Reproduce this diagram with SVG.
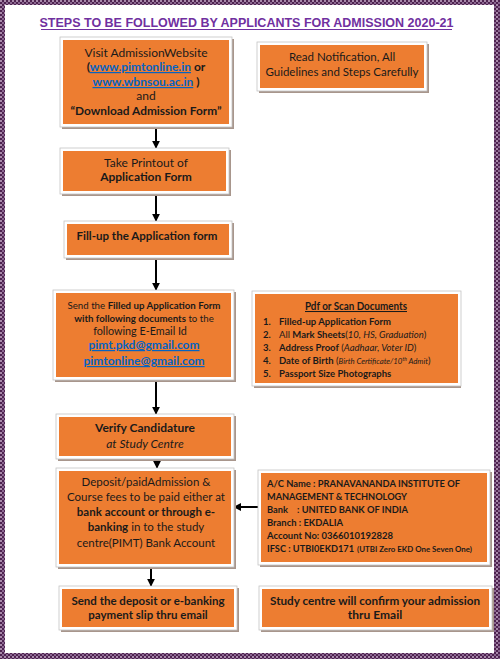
<svg xmlns="http://www.w3.org/2000/svg" width="500" height="659" viewBox="0 0 500 659">
<style>
.t{font-family:Lato,"Liberation Sans",sans-serif;font-size:12px;fill:#1a1a1a}
.c{text-anchor:middle}
.b{font-weight:700}
.i{font-style:italic}
.lnk{fill:#0563C1;font-weight:700;text-decoration:underline}
.fr{fill:#ffffff;stroke:#c4c4c4;stroke-width:0.8}
.sh{fill:#a8968c}
.or{fill:#ED7D31}
.ar{stroke:#000;stroke-width:2;fill:none;marker-end:url(#ah)}
.bk{font-size:10px;font-weight:700;white-space:pre}
.bs{font-size:8px}
.li{font-size:10.4px}
.l2{font-size:9.5px}
.sm{font-size:7.8px}
.sup{font-size:5px}
.m{font-size:11.5px}
.s{font-size:10.8px}
.s2{font-size:9.7px}
</style>
<defs>
<pattern id="pp" width="4" height="4" patternUnits="userSpaceOnUse">
<rect width="4" height="4" fill="#4e2350"/>
<rect x="0" y="0" width="2" height="2" fill="#a98aab"/>
<rect x="2" y="2" width="2" height="2" fill="#8a6690"/>
</pattern>
<marker id="ah" viewBox="0 0 10 10" refX="9" refY="5" markerWidth="4" markerHeight="4" orient="auto" markerUnits="strokeWidth">
<path d="M0,0 L10,5 L0,10 Z" fill="#000"/>
</marker>
</defs>
<rect width="500" height="659" fill="#ffffff"/>
<path d="M0,0 H500 V659 H0 Z M5,5 V653 H494 V5 Z" fill="url(#pp)" fill-rule="evenodd"/>
<g id="title">
<text x="246.5" y="27" font-family="'Liberation Sans',Arial,sans-serif" font-size="12.5" font-weight="700" fill="#7030A0" text-anchor="middle">STEPS TO BE FOLLOWED BY APPLICANTS FOR ADMISSION 2020-21</text>
<line x1="41" y1="29.5" x2="452" y2="29.5" stroke="#7030A0" stroke-width="1.2"/>
</g>
<g id="connectors">
<line class="ar" x1="156" y1="127" x2="156" y2="148"/>
<line class="ar" x1="156" y1="194" x2="156" y2="221"/>
<line class="ar" x1="156" y1="260" x2="156" y2="290"/>
<line class="ar" x1="156" y1="380" x2="156" y2="414"/>
<line class="ar" x1="157" y1="459" x2="157" y2="468"/>
<line class="ar" x1="151" y1="567" x2="151" y2="586"/>
<line class="ar" x1="258" y1="507" x2="234" y2="507"/>
</g>
<g id="n1">
<rect class="sh" x="62" y="39" width="172" height="90"/>
<rect class="fr" x="60" y="37" width="172" height="90"/>
<rect class="or" x="63" y="40" width="166" height="84"/>
<text class="t c" x="146" y="57">Visit AdmissionWebsite</text>
<text class="t c b" x="146" y="71">(<tspan class="lnk">www.pimtonline.in</tspan> or</text>
<text class="t c b" x="146" y="86"><tspan class="lnk">www.wbnsou.ac.in</tspan> )</text>
<text class="t c" x="146" y="100">and</text>
<text class="t c b" x="146" y="115" textLength="151" lengthAdjust="spacingAndGlyphs">“Download Admission Form”</text>
</g>
<g id="n2">
<rect class="sh" x="259" y="44" width="170" height="49"/>
<rect class="fr" x="257" y="42" width="170" height="49"/>
<rect class="or" x="260" y="45" width="164" height="43"/>
<text class="t c m" x="342" y="61">Read Notification, All</text>
<text class="t c m" x="342" y="76">Guidelines and Steps Carefully</text>
</g>
<g id="n3">
<rect class="sh" x="62" y="150" width="169" height="46"/>
<rect class="fr" x="60" y="148" width="169" height="46"/>
<rect class="or" x="63" y="151" width="163" height="40"/>
<text class="t c" x="146" y="167">Take Printout of</text>
<text class="t c b" x="146" y="181">Application Form</text>
</g>
<g id="n4">
<rect class="sh" x="66" y="223" width="168" height="37"/>
<rect class="fr" x="64" y="221" width="168" height="37"/>
<rect class="or" x="67" y="224" width="162" height="31"/>
<text class="t c b" x="147" y="240" textLength="141" lengthAdjust="spacingAndGlyphs">Fill-up the Application form</text>
</g>
<g id="n5">
<rect class="sh" x="55" y="292" width="181" height="90"/>
<rect class="fr" x="53" y="290" width="181" height="90"/>
<rect class="or" x="56" y="293" width="175" height="84"/>
<text class="t c s2" x="144" y="309">Send the <tspan class="b">Filled up Application Form</tspan></text>
<text class="t c s2" x="144" y="322"><tspan class="b">with following documents</tspan> to the</text>
<text class="t c s" x="140" y="335">following E-Email Id</text>
<text class="t c lnk" x="144" y="349">pimt.pkd@gmail.com</text>
<text class="t c lnk" x="144" y="365">pimtonline@gmail.com</text>
</g>
<g id="n6">
<rect class="sh" x="254" y="293" width="207" height="95"/>
<rect class="fr" x="252" y="291" width="209" height="95"/>
<rect class="or" x="255" y="294" width="203" height="89"/>
<text class="t c b li" x="356" y="310" text-decoration="underline" textLength="102" lengthAdjust="spacingAndGlyphs">Pdf or Scan Documents</text>
<text class="t b l2" x="263" y="325">1.</text>
<text class="t b l2" x="279" y="325">Filled-up Application Form</text>
<text class="t b l2" x="263" y="338">2.</text>
<text class="t l2" x="279" y="338">All <tspan class="b">Mark Sheets</tspan>(<tspan class="i">10, HS, Graduation</tspan>)</text>
<text class="t b l2" x="263" y="351">3.</text>
<text class="t l2" x="279" y="351"><tspan class="b">Address Proof</tspan> (<tspan class="i">Aadhaar, Voter ID</tspan>)</text>
<text class="t b l2" x="263" y="364">4.</text>
<text class="t l2" x="279" y="364"><tspan class="b">Date of Birth</tspan> (<tspan class="i sm">Birth Certificate/10</tspan><tspan class="i sup" dy="-3.5">th</tspan><tspan class="i sm" dy="3.5"> Admit</tspan>)</text>
<text class="t b l2" x="263" y="377">5.</text>
<text class="t b l2" x="279" y="377">Passport Size Photographs</text>
</g>
<g id="n7">
<rect class="sh" x="58" y="416" width="178" height="45"/>
<rect class="fr" x="56" y="414" width="178" height="45"/>
<rect class="or" x="59" y="417" width="172" height="39"/>
<text class="t c b" x="145" y="432">Verify Candidature</text>
<text class="t c i" x="145" y="448">at Study Centre</text>
</g>
<g id="n8">
<rect class="sh" x="58" y="470" width="178" height="99"/>
<rect class="fr" x="56" y="468" width="178" height="99"/>
<rect class="or" x="59" y="471" width="172" height="93"/>
<text class="t c m" x="146" y="486">Deposit/paidAdmission &amp;</text>
<text class="t c m" x="146" y="501">Course fees to be paid either at</text>
<text class="t c m b" x="146" y="516">bank account or through e-</text>
<text class="t c m" x="146" y="531"><tspan class="b">banking</tspan> in to the study</text>
<text class="t c m" x="146" y="547">centre(PIMT) Bank Account</text>
</g>
<g id="n9">
<rect class="sh" x="260" y="472" width="232" height="95"/>
<rect class="fr" x="258" y="470" width="232" height="95"/>
<rect class="or" x="261" y="473" width="226" height="89"/>
<text class="t bk" x="267" y="487" textLength="193" lengthAdjust="spacingAndGlyphs">A/C Name : PRANAVANANDA INSTITUTE OF</text>
<text class="t bk" x="267" y="500" textLength="140" lengthAdjust="spacingAndGlyphs">MANAGEMENT &amp; TECHNOLOGY</text>
<text class="t bk" x="267" y="513" textLength="141" lengthAdjust="spacingAndGlyphs">Bank    : UNITED BANK OF INDIA</text>
<text class="t bk" x="267" y="526" textLength="76" lengthAdjust="spacingAndGlyphs">Branch : EKDALIA</text>
<text class="t bk" x="267" y="539" textLength="126" lengthAdjust="spacingAndGlyphs">Account No: 0366010192828</text>
<text class="t bk" x="267" y="552" textLength="87" lengthAdjust="spacingAndGlyphs">IFSC : UTBI0EKD171</text>
<text class="t bk bs" x="357" y="552" textLength="115" lengthAdjust="spacingAndGlyphs">(UTBI Zero EKD One Seven One)</text>
</g>
<g id="n10">
<rect class="sh" x="61" y="588" width="178" height="44"/>
<rect class="fr" x="59" y="586" width="178" height="44"/>
<rect class="or" x="62" y="589" width="172" height="38"/>
<text class="t c b m" x="148" y="605">Send the deposit or e-banking</text>
<text class="t c b m" x="148" y="619">payment slip thru email</text>
</g>
<g id="n11">
<rect class="sh" x="261" y="588" width="233" height="44"/>
<rect class="fr" x="259" y="586" width="233" height="44"/>
<rect class="or" x="262" y="589" width="227" height="38"/>
<text class="t c b" x="375" y="605" textLength="210" lengthAdjust="spacingAndGlyphs">Study centre will confirm your admission</text>
<text class="t c b" x="375" y="619">thru Email</text>
</g>
</svg>
